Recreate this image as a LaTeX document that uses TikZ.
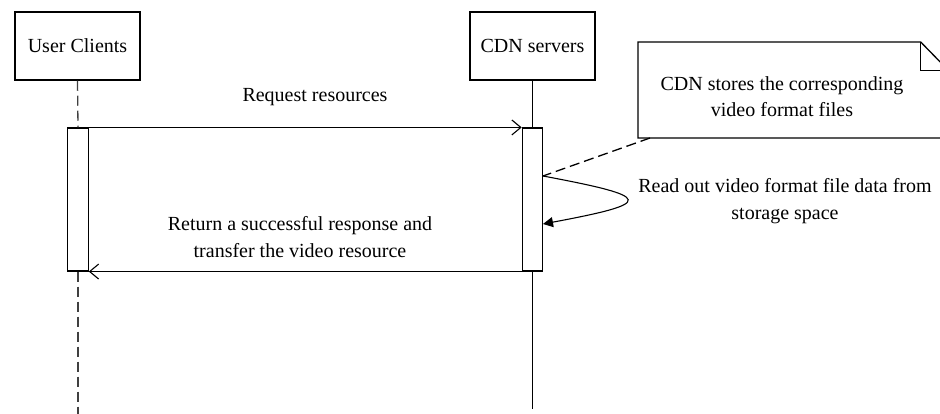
\documentclass[tikz,border=0pt]{standalone}
\usepackage{fontspec}
\setmainfont{Liberation Serif}
\usetikzlibrary{arrows.meta}
\begin{document}
\begin{tikzpicture}[x=1pt,y=-1pt,
  font=\fontsize{20}{26.5}\selectfont,
  actor/.style={draw,line width=1.5pt,minimum width=125pt,minimum height=68pt,inner sep=0pt},
  actbar/.style={draw,line width=1.1pt,fill=white,minimum width=20.5pt,minimum height=143pt,inner sep=0pt},
  msg/.style={line width=1.1pt,-{Straight Barb[length=9pt,width=15pt]}},
  msgtext/.style={align=center,inner sep=0pt},
  dashline/.style={line width=1.3pt,dash pattern=on 10pt off 5pt},
]
\fill[white] (0,0) rectangle (940,414);
\useasboundingbox (0,0) rectangle (940,414);

% participants
\node[actor] (uc) at (77.5,46) {User Clients};
\node[actor] (cdn) at (532.5,46) {CDN servers};

% activation bars
\node[actbar] (ua) at (78,199.5) {};
\node[actbar] (ca) at (532.5,199.5) {};

% lifelines
\coordinate (uend) at (78,414);
\coordinate (cend) at (532.5,409);
\draw[dashline,black!75] (uc.south) -- (ua.north);
\draw[dashline,black!75] (ua.south) -- (uend);
\draw[line width=1.5pt] (cdn.south) -- (ca.north);
\draw[line width=1.5pt] (ca.south) -- (cend);

% messages
\draw[msg] (ua.north east) -- (ca.north west);
\node[msgtext] (req) at (315,97) {Request resources};
\draw[msg] (ca.south west) -- (ua.south east);
\node[msgtext] (ret) at (300,237) {Return a successful response and\\transfer the video resource};

% self call on the CDN side
\coordinate (s1) at (543,176);
\coordinate (s2) at (543,224);
\draw[line width=1.1pt,-{Triangle[length=10pt,width=10pt]}]
  (s1) .. controls (655,197) and (655,203) .. (s2);
\node[msgtext] (read) at (785,201) {Read out video format file data from\\storage space};

% note with folded corner
\begin{scope}
\clip (0,0) rectangle (940,414);
\draw[line width=1.3pt,fill=white] (638,42) -- (920.7,42) -- (948.7,70.7) -- (948.7,138) -- (638,138) -- cycle;
\draw[line width=1.3pt] (920.7,42) -- (920.7,70.7) -- (948.7,70.7);
\end{scope}
\node[msgtext] (notetext) at (782,96.5) {CDN stores the corresponding\\video format files};
\coordinate (notefoot) at (650,138);
\draw[dashline] (notefoot) -- (s1);
\end{tikzpicture}
\end{document}
